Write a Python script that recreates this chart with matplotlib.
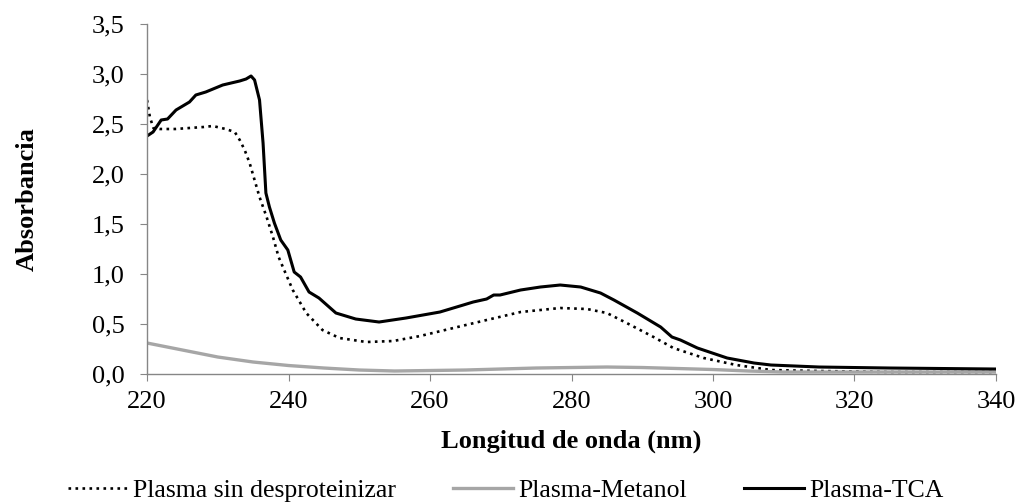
import numpy as np
import matplotlib.pyplot as plt

plt.rcParams['font.family'] = ['Liberation Serif', 'DejaVu Serif']

# Plasma sin desproteinizar (punteada)
x_sin = [220, 220.4, 220.9, 221.8, 224, 226, 228, 229.3, 231.1, 232.4, 233.1, 233.8,
         234.5, 235.2, 235.9, 236.9, 237.8, 238.6, 239.2, 240.6, 242.5, 244.8, 247.2,
         251, 254.8, 258.6, 263.3, 268, 272.8, 278.4, 282.2, 285, 287.8, 291.6, 294.4,
         298.7, 303.3, 308.2, 315, 325, 340]
y_sin = [2.74, 2.57, 2.46, 2.45, 2.45, 2.46, 2.47, 2.48, 2.45, 2.42, 2.34, 2.24,
         2.11, 1.94, 1.77, 1.57, 1.37, 1.17, 1.07, 0.84, 0.61, 0.44, 0.36,
         0.32, 0.33, 0.38, 0.46, 0.54, 0.62, 0.66, 0.65, 0.61, 0.51, 0.37, 0.26,
         0.16, 0.09, 0.04, 0.03, 0.02, 0.02]

# Plasma-Metanol (gris)
x_met = [220, 225, 230, 235, 240, 245, 250, 255, 260, 265, 270, 275, 280, 285, 290,
         295, 300, 305, 310, 320, 330, 340]
y_met = [0.31, 0.24, 0.17, 0.12, 0.085, 0.06, 0.04, 0.03, 0.035, 0.04, 0.05, 0.06,
         0.065, 0.07, 0.065, 0.055, 0.045, 0.03, 0.02, 0.02, 0.02, 0.02]

# Plasma-TCA (negra)
x_tca = [220, 220.85, 222, 222.9, 224.1, 226, 226.9, 228.3, 230.7, 233.1, 234, 234.7,
         235.2, 235.9, 236.4, 236.8, 237.3, 238, 238.9, 239.9, 240.8, 241.7, 242.9,
         244.3, 246.7, 249.5, 252.8, 256.6, 261.4, 264.7, 266.1, 268, 269, 269.9,
         272.8, 275.6, 278.4, 281.3, 284.1, 286, 289.3, 292.6, 294.2, 295.4, 297.8,
         302, 305.8, 308.2, 315, 325, 340]
y_tca = [2.38, 2.42, 2.54, 2.55, 2.64, 2.72, 2.79, 2.82, 2.89, 2.93, 2.95, 2.98,
         2.94, 2.74, 2.31, 1.81, 1.67, 1.51, 1.34, 1.24, 1.02, 0.97, 0.82,
         0.76, 0.61, 0.55, 0.52, 0.56, 0.62, 0.69, 0.72, 0.75, 0.79, 0.79,
         0.84, 0.87, 0.89, 0.87, 0.81, 0.74, 0.61, 0.47, 0.37, 0.34, 0.26,
         0.16, 0.11, 0.09, 0.07, 0.06, 0.05]

fig = plt.figure(figsize=(10.19, 5.04), dpi=100)
ax = fig.add_axes([0.1443, 0.2579, 0.9774 - 0.1443, 0.9524 - 0.2579])

l1, = ax.plot(x_sin, y_sin, color='black', linestyle=':', linewidth=1.9)
l2, = ax.plot(x_met, y_met, color='#a6a6a6', linewidth=2.4)
l3, = ax.plot(x_tca, y_tca, color='black', linewidth=2.2)

ax.set_xlim(220, 340)
ax.set_ylim(0, 3.5)
ax.set_xticks(np.arange(220, 341, 20))
ax.set_yticks(np.arange(0, 3.51, 0.5))
ax.set_yticklabels([f"{v:.1f}".replace('.', ',') for v in np.arange(0, 3.51, 0.5)])

for s in ['top', 'right']:
    ax.spines[s].set_visible(False)
for s in ['left', 'bottom']:
    ax.spines[s].set_color('#868686')
    ax.spines[s].set_linewidth(1.0)
ax.tick_params(axis='both', colors='#868686', labelcolor='black', labelsize=19,
               length=5, direction='out')
ax.tick_params(axis='x', pad=7)
ax.tick_params(axis='y', pad=11)

ax.set_xlabel("Longitud de onda (nm)", fontsize=19, fontweight='bold')
ax.set_ylabel("Absorbancia", fontsize=19, fontweight='bold')
ax.xaxis.set_label_coords(0.5, -0.16)
ax.yaxis.set_label_coords(-0.128, 0.5)

fig.legend([l1, l2, l3], ['Plasma sin desproteinizar', 'Plasma-Metanol', 'Plasma-TCA'],
           loc='center left', bbox_to_anchor=(0.054, 0.026), ncol=3, frameon=False,
           fontsize=18.5, handlelength=2.35, handletextpad=0.2, columnspacing=2.2,
           borderpad=0)

fig.savefig('out.png', dpi=100)
